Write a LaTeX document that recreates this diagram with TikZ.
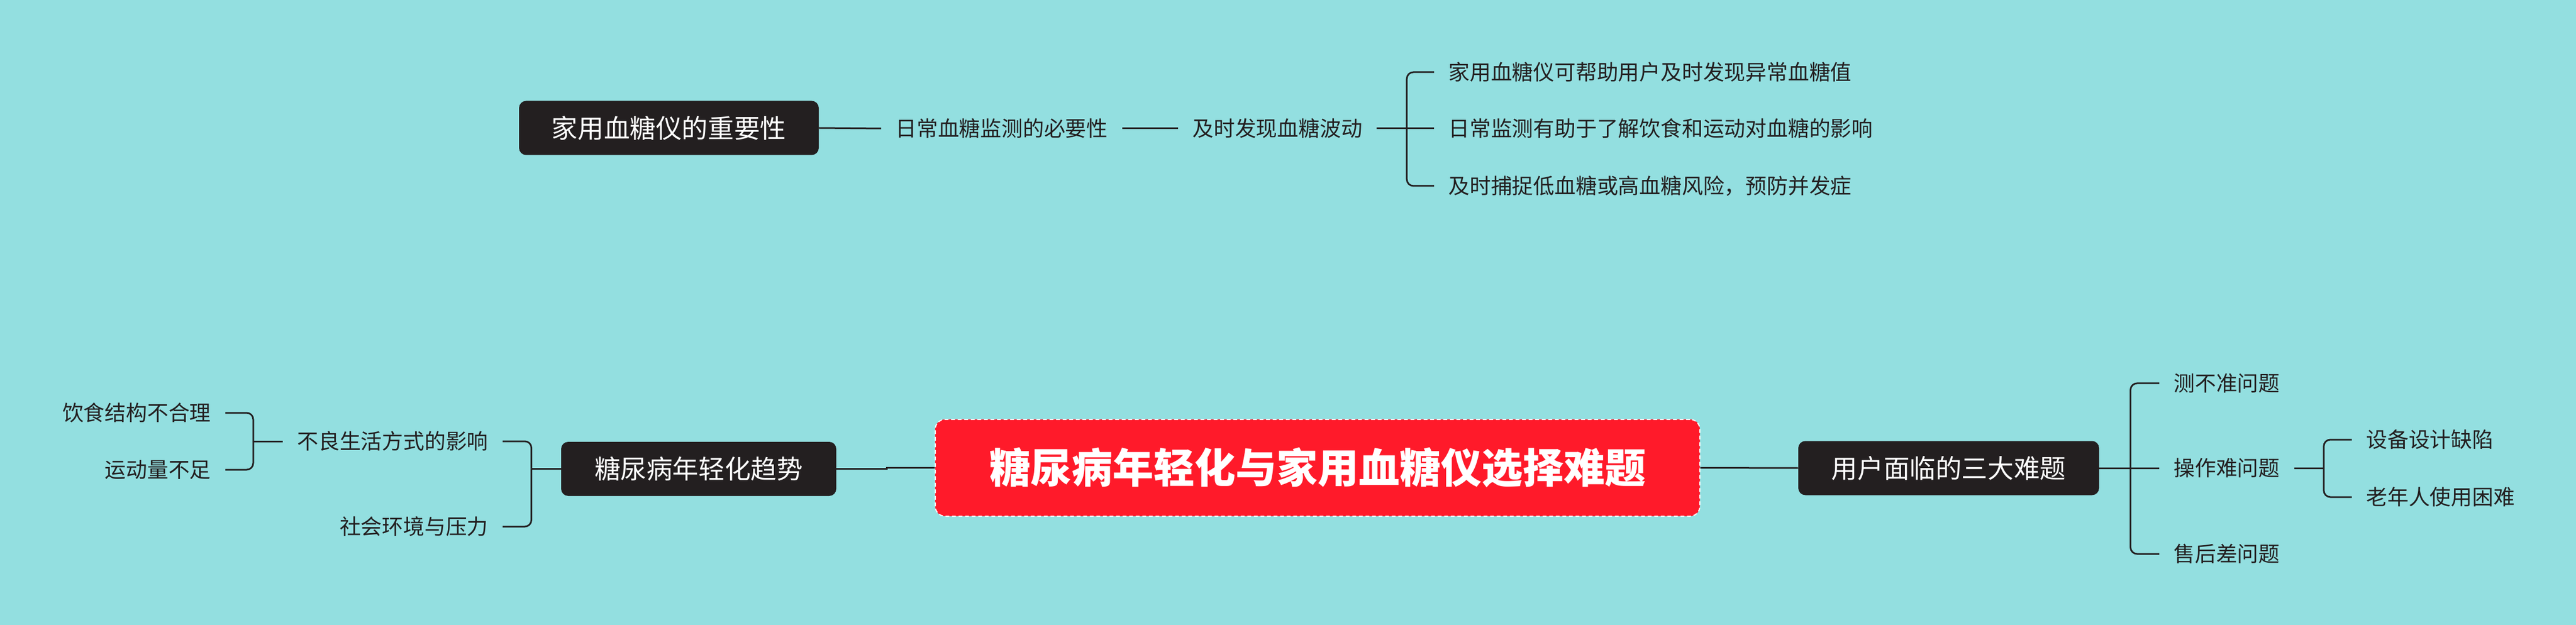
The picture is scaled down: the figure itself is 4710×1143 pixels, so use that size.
\documentclass[tikz,border=0pt]{standalone}
\usepackage{fontspec}
\setmainfont{Noto Sans CJK SC}
\usetikzlibrary{calc}
\definecolor{bg}{RGB}{147,223,224}
\definecolor{dark}{RGB}{35,31,32}
\definecolor{hot}{RGB}{255,26,42}
\tikzset{
  topic/.style={fill=dark, rounded corners=6.5pt, text=white, font=\fontsize{23.8}{23.8}\selectfont, minimum height=49.5pt, inner sep=0pt, align=center},
  sub/.style={text=dark, font=\fontsize{19.4}{19.4}\selectfont, inner xsep=13pt, inner ysep=0pt},
  link/.style={draw=dark, line width=1.5pt},
  brk/.style={link, rounded corners=6pt},
}
\begin{document}
\begin{tikzpicture}[x=0.5pt,y=-0.5pt]
\fill[bg] (0,0) rectangle (4710,1143);
\useasboundingbox (0,0) rectangle (4710,1143);

% central topic
\node[fill=hot, draw=white, dashed, dash pattern=on 3.5pt off 2.5pt, line width=1pt, rounded corners=9pt, minimum width=699pt, minimum height=88.5pt, inner sep=0pt, text=white, font=\fontsize{37.5}{37.5}\selectfont\bfseries] (c) at (2409,855.5) {糖尿病年轻化与家用血糖仪选择难题};

% top branch
\node[topic, minimum width=274pt] (imp) at (1223,234) {家用血糖仪的重要性};
\node[sub, anchor=west] (need) at (1611,235) {日常血糖监测的必要性};
\node[sub, anchor=west] (find) at (2154,235) {及时发现血糖波动};
\node[sub, anchor=west] (f1) at (2622,132) {家用血糖仪可帮助用户及时发现异常血糖值};
\node[sub, anchor=west] (f2) at (2622,235) {日常监测有助于了解饮食和运动对血糖的影响};
\node[sub, anchor=west] (f3) at (2622,340) {及时捕捉低血糖或高血糖风险，预防并发症};

% left branch
\node[topic, minimum width=251.5pt] (trend) at (1277.5,857.5) {糖尿病年轻化趋势};
\node[sub, anchor=east] (life) at (919,807) {不良生活方式的影响};
\node[sub, anchor=east] (soc) at (919,963) {社会环境与压力};
\node[sub, anchor=east] (diet) at (412,755) {饮食结构不合理};
\node[sub, anchor=east] (ex) at (412,859) {运动量不足};

% right branch
\node[topic, minimum width=275pt] (user) at (3563,856) {用户面临的三大难题};
\node[sub, anchor=west] (q1) at (3948,701) {测不准问题};
\node[sub, anchor=west] (q2) at (3948,856) {操作难问题};
\node[sub, anchor=west] (q3) at (3948,1013) {售后差问题};
\node[sub, anchor=west] (d1) at (4300,804) {设备设计缺陷};
\node[sub, anchor=west] (d2) at (4300,909) {老年人使用困难};

% connectors: top
\draw[link] (imp.east) -- (need.west);
\draw[link] (need.east) -- (find.west);
\draw[link] (find.east) -- ++(55,0) coordinate (jf);
\draw[brk] (jf) |- (f1.west);
\draw[brk] (jf) |- (f3.west);
\draw[link] (jf) -- (f2.west);

% connectors: left
\draw[link] (trend.east) -- ++(92,0) coordinate (jt) |- (c.west);
\draw[link] (trend.west) -- ++(-54,0) coordinate (jl);
\draw[brk] (jl) |- (life.east);
\draw[brk] (jl) |- (soc.east);
\draw[link] (life.west) -- ++(-54,0) coordinate (jd);
\draw[brk] (jd) |- (diet.east);
\draw[brk] (jd) |- (ex.east);

% connectors: right
\draw[link] (c.east) -- (user.west);
\draw[link] (user.east) -- ++(57,0) coordinate (ju);
\draw[brk] (ju) |- (q1.west);
\draw[brk] (ju) |- (q3.west);
\draw[link] (ju) -- (q2.west);
\draw[link] (q2.east) -- ++(54,0) coordinate (jq);
\draw[brk] (jq) |- (d1.west);
\draw[brk] (jq) |- (d2.west);
\end{tikzpicture}
\end{document}
